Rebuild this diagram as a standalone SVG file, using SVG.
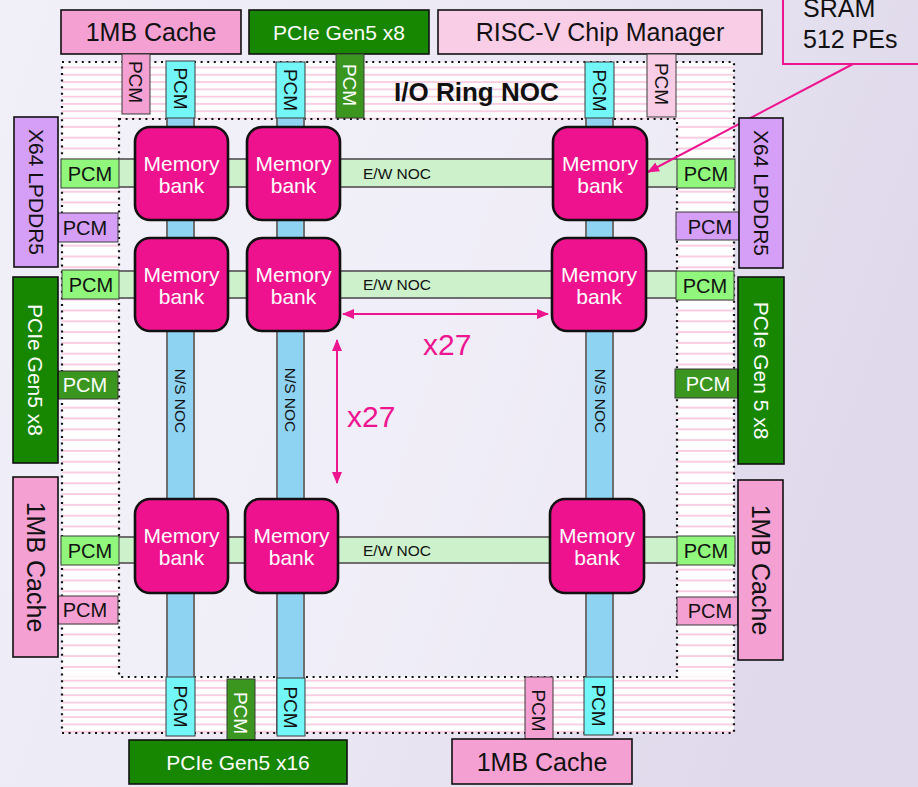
<svg xmlns="http://www.w3.org/2000/svg" width="918" height="787" viewBox="0 0 918 787">
  <defs>
    <linearGradient id="bg" x1="0" y1="0" x2="1" y2="0.3">
      <stop offset="0" stop-color="#f1f0f9"/>
      <stop offset="0.55" stop-color="#ebe8f4"/>
      <stop offset="1" stop-color="#dfd9eb"/>
    </linearGradient>
    <!-- ring stripes: tight spacing along top/bottom, wider along sides -->
    <pattern id="stripeH" patternUnits="userSpaceOnUse" x="0" y="62" width="20" height="7.3">
      <rect width="20" height="7.3" fill="#ffffff"/>
      <rect y="4.6" width="20" height="1.7" fill="#f9c9df"/>
    </pattern>
    <pattern id="stripeV" patternUnits="userSpaceOnUse" x="0" y="119" width="20" height="10.8">
      <rect width="20" height="10.8" fill="#ffffff"/>
      <rect y="7" width="20" height="1.8" fill="#f9c9df"/>
    </pattern>
    <marker id="ah" viewBox="0 0 12 10" refX="11" refY="5" markerWidth="12" markerHeight="10" markerUnits="userSpaceOnUse" orient="auto-start-reverse">
      <path d="M0,0 L12,5 L0,10 Z" fill="#ee1590"/>
    </marker>
    <style>
      text { font-family: "Liberation Sans", Arial, sans-serif; }
      .box { stroke: #111; stroke-width: 1.6; }
      .tab { stroke: #3a3a3a; stroke-width: 1; }
      .cache { fill: #f5a0d2; }
      .lpink { fill: #f9cde6; }
      .pcie { fill: #178600; }
      .gpcm { fill: #3a961f; }
      .lgpcm { fill: #90f77c; }
      .purple { fill: #d59ef7; }
      .cyan { fill: #72f6f8; }
      .bank { fill: #ef128e; stroke: #111; stroke-width: 2.6; }
      .bt { fill: #ffffff; font-size: 21px; text-anchor: middle; }
      .big { font-size: 25px; text-anchor: middle; }
      .mid { font-size: 21px; text-anchor: middle; }
      .pcm { font-size: 20px; text-anchor: middle; }
      .vt { font-size: 19px; text-anchor: middle; }
      .noc { font-size: 15.5px; fill: #111; }
      .w { fill: #ffffff; }
      .k { fill: #111111; }
      .dot { fill: none; stroke: #111; stroke-width: 2.2; stroke-dasharray: 2 4.6; }
      .ew { fill: #cdf1cb; }
      .ns { fill: #8fd3f3; }
      .edge { stroke: #6e6e6e; stroke-width: 2; }
      .pk { stroke: #ee1590; stroke-width: 2; fill: none; }
      .x27 { font-size: 30px; fill: #ee1590; }
    </style>
  </defs>

  <!-- backdrop -->
  <rect width="918" height="787" fill="url(#bg)"/>
  <rect x="119" y="119" width="558" height="558" fill="#f3f1fa" opacity="0.6"/>

  <!-- I/O ring band -->
  <g id="io-ring">
    <rect x="62" y="62" width="672" height="57" fill="url(#stripeH)"/>
    <rect x="62" y="677" width="672" height="56" fill="url(#stripeH)"/>
    <rect x="62" y="119" width="57" height="558" fill="url(#stripeV)"/>
    <rect x="677" y="119" width="57" height="558" fill="url(#stripeV)"/>
    <rect class="dot" x="62" y="62" width="672" height="671"/>
    <rect class="dot" x="119" y="119" width="558" height="558"/>
    <text x="394" y="101" font-size="26" font-weight="bold" fill="#111">I/O Ring NOC</text>
  </g>

  <!-- mesh NOC links -->
  <g id="connectors">
    <g id="ew-noc">
      <rect class="ew" x="119" y="158" width="558" height="30"/>
      <line class="edge" x1="119" y1="159" x2="677" y2="159"/>
      <line class="edge" x1="119" y1="187" x2="677" y2="187"/>
      <text class="noc" x="363" y="179">E/W NOC</text>

      <rect class="ew" x="119" y="270" width="558" height="29"/>
      <line class="edge" x1="119" y1="271" x2="677" y2="271"/>
      <line class="edge" x1="119" y1="298" x2="677" y2="298"/>
      <text class="noc" x="363" y="290">E/W NOC</text>

      <rect class="ew" x="119" y="536" width="558" height="28"/>
      <line class="edge" x1="119" y1="537" x2="677" y2="537"/>
      <line class="edge" x1="119" y1="563" x2="677" y2="563"/>
      <text class="noc" x="363" y="556">E/W NOC</text>
    </g>
    <g id="ns-noc">
      <rect class="ns" x="166" y="62" width="29" height="672"/>
      <line class="edge" x1="167" y1="62" x2="167" y2="734"/>
      <line class="edge" x1="194" y1="62" x2="194" y2="734"/>
      <text class="noc" transform="translate(180.5,401) rotate(90)" x="0" y="5.5" text-anchor="middle">N/S NOC</text>

      <rect class="ns" x="276" y="62" width="29" height="672"/>
      <line class="edge" x1="277" y1="62" x2="277" y2="734"/>
      <line class="edge" x1="304" y1="62" x2="304" y2="734"/>
      <text class="noc" transform="translate(290.5,400) rotate(90)" x="0" y="5.5" text-anchor="middle">N/S NOC</text>

      <rect class="ns" x="585" y="62" width="29" height="672"/>
      <line class="edge" x1="586" y1="62" x2="586" y2="734"/>
      <line class="edge" x1="613" y1="62" x2="613" y2="734"/>
      <text class="noc" transform="translate(600,401) rotate(90)" x="0" y="5.5" text-anchor="middle">N/S NOC</text>
    </g>

    <!-- replication arrows -->
    <line class="pk" x1="343" y1="314" x2="548" y2="314" marker-start="url(#ah)" marker-end="url(#ah)"/>
    <text class="x27" x="423" y="355">x27</text>
    <line class="pk" x1="337" y1="340" x2="337" y2="483" marker-start="url(#ah)" marker-end="url(#ah)"/>
    <text class="x27" x="347" y="427">x27</text>

    <!-- callout pointer -->
    <line class="pk" x1="853" y1="64" x2="648" y2="172" marker-end="url(#ah)"/>
  </g>

  <!-- top edge blocks -->
  <g id="cache-top">
    <rect class="box cache" x="61" y="10" width="180" height="44"/>
    <text class="big k" x="151" y="41">1MB Cache</text>
  </g>
  <g id="pcie-top">
    <rect class="box pcie" x="249" y="10" width="180" height="44"/>
    <text class="mid w" x="339" y="40">PCIe Gen5 x8</text>
  </g>
  <g id="riscv">
    <rect class="box lpink" x="438" y="10" width="324" height="44"/>
    <text class="big k" x="600" y="41">RISC-V Chip Manager</text>
  </g>
  <g id="sram-callout">
    <rect x="783" y="-10" width="150" height="74" fill="none" stroke="#ee1590" stroke-width="2"/>
    <text x="803" y="17" font-size="25" fill="#111">SRAM</text>
    <text x="803" y="48" font-size="25" fill="#111">512 PEs</text>
  </g>

  <!-- top PCM tabs -->
  <g id="pcm-t1"><rect class="tab cache" x="122" y="54" width="28" height="60"/><text class="vt k" transform="translate(136,82) rotate(90)" y="7">PCM</text></g>
  <g id="pcm-t2"><rect class="tab cyan" x="166" y="61" width="29" height="57"/><text class="vt k" transform="translate(180.5,88.5) rotate(90)" y="7">PCM</text></g>
  <g id="pcm-t3"><rect class="tab cyan" x="276" y="62" width="29" height="56"/><text class="vt k" transform="translate(290.5,90) rotate(90)" y="7">PCM</text></g>
  <g id="pcm-t4"><rect class="tab gpcm" x="336" y="54" width="28" height="64"/><text class="vt w" transform="translate(350,85) rotate(90)" y="7">PCM</text></g>
  <g id="pcm-t5"><rect class="tab cyan" x="585" y="62" width="29" height="56"/><text class="vt k" transform="translate(599.5,90.5) rotate(90)" y="7">PCM</text></g>
  <g id="pcm-t6"><rect class="tab lpink" x="647" y="54" width="29" height="63"/><text class="vt k" transform="translate(661.5,84) rotate(90)" y="7">PCM</text></g>

  <!-- bottom PCM tabs -->
  <g id="pcm-b1"><rect class="tab cyan" x="166" y="677" width="29" height="59"/><text class="vt k" transform="translate(180.5,706.5) rotate(90)" y="7">PCM</text></g>
  <g id="pcm-b2"><rect class="tab gpcm" x="227" y="679" width="28" height="61"/><text class="vt w" transform="translate(241,713) rotate(90)" y="7">PCM</text></g>
  <g id="pcm-b3"><rect class="tab cyan" x="277" y="678" width="28" height="58"/><text class="vt k" transform="translate(291,707.5) rotate(90)" y="7">PCM</text></g>
  <g id="pcm-b4"><rect class="tab cache" x="525" y="677" width="28" height="62"/><text class="vt k" transform="translate(539,710.5) rotate(90)" y="7">PCM</text></g>
  <g id="pcm-b5"><rect class="tab cyan" x="584" y="677" width="29" height="58"/><text class="vt k" transform="translate(598.5,705.5) rotate(90)" y="7">PCM</text></g>

  <!-- bottom edge blocks -->
  <g id="pcie-bottom">
    <rect class="box pcie" x="129" y="740" width="218" height="44"/>
    <text class="mid w" x="238" y="770">PCIe Gen5 x16</text>
  </g>
  <g id="cache-bottom">
    <rect class="box cache" x="452" y="739" width="180" height="45"/>
    <text class="big k" x="542" y="771">1MB Cache</text>
  </g>

  <!-- left side PCM tabs -->
  <g id="pcm-l1"><rect class="tab lgpcm" x="61" y="159" width="58" height="29"/><text class="pcm k" x="90" y="181">PCM</text></g>
  <g id="pcm-l2"><rect class="tab purple" x="58" y="213" width="60" height="29"/><text class="pcm k" x="85" y="235">PCM</text></g>
  <g id="pcm-l3"><rect class="tab lgpcm" x="62" y="270" width="57" height="29"/><text class="pcm k" x="91" y="292">PCM</text></g>
  <g id="pcm-l4"><rect class="tab gpcm" x="58" y="371" width="60" height="28"/><text class="pcm w" x="85" y="392">PCM</text></g>
  <g id="pcm-l5"><rect class="tab lgpcm" x="61" y="536" width="58" height="29"/><text class="pcm k" x="90" y="558">PCM</text></g>
  <g id="pcm-l6"><rect class="tab cache" x="58" y="596" width="60" height="28"/><text class="pcm k" x="85" y="617">PCM</text></g>

  <!-- right side PCM tabs -->
  <g id="pcm-r1"><rect class="tab lgpcm" x="677" y="159" width="58" height="29"/><text class="pcm k" x="706" y="181">PCM</text></g>
  <g id="pcm-r2"><rect class="tab purple" x="676" y="212" width="63" height="28"/><text class="pcm k" x="710" y="234">PCM</text></g>
  <g id="pcm-r3"><rect class="tab lgpcm" x="676" y="271" width="58" height="29"/><text class="pcm k" x="705" y="293">PCM</text></g>
  <g id="pcm-r4"><rect class="tab gpcm" x="675" y="369" width="63" height="29"/><text class="pcm w" x="708" y="391">PCM</text></g>
  <g id="pcm-r5"><rect class="tab lgpcm" x="677" y="536" width="58" height="29"/><text class="pcm k" x="706" y="558">PCM</text></g>
  <g id="pcm-r6"><rect class="tab cache" x="677" y="597" width="61" height="28"/><text class="pcm k" x="710" y="618">PCM</text></g>

  <!-- left side blocks -->
  <g id="lpddr-left">
    <rect class="box purple" x="14" y="117" width="44" height="150"/>
    <text class="mid k" transform="translate(36,192) rotate(90)" y="7.5">X64 LPDDR5</text>
  </g>
  <g id="pcie-left">
    <rect class="box pcie" x="13" y="277" width="45" height="186"/>
    <text class="mid w" transform="translate(35.5,370) rotate(90)" y="7.5">PCIe Gen5 x8</text>
  </g>
  <g id="cache-left">
    <rect class="box cache" x="13" y="477" width="45" height="180"/>
    <text class="big k" transform="translate(35.5,567) rotate(90)" y="9">1MB Cache</text>
  </g>

  <!-- right side blocks -->
  <g id="lpddr-right">
    <rect class="box purple" x="739" y="118" width="44" height="150"/>
    <text class="mid k" transform="translate(761,193) rotate(90)" y="7.5">X64 LPDDR5</text>
  </g>
  <g id="pcie-right">
    <rect class="box pcie" x="738" y="277" width="46" height="187"/>
    <text class="mid w" transform="translate(761,370.5) rotate(90)" y="7.5">PCIe Gen 5 x8</text>
  </g>
  <g id="cache-right">
    <rect class="box cache" x="738" y="480" width="45" height="180"/>
    <text class="big k" transform="translate(760.5,570) rotate(90)" y="9">1MB Cache</text>
  </g>

  <!-- memory banks -->
  <g id="bank-r1c1"><rect class="bank" x="135" y="127" width="93" height="93" rx="15"/><text class="bt" x="181.5" y="171">Memory</text><text class="bt" x="181.5" y="193">bank</text></g>
  <g id="bank-r1c2"><rect class="bank" x="247" y="127" width="93" height="93" rx="15"/><text class="bt" x="293.5" y="171">Memory</text><text class="bt" x="293.5" y="193">bank</text></g>
  <g id="bank-r1c3"><rect class="bank" x="553" y="127" width="94" height="93" rx="15"/><text class="bt" x="600" y="171">Memory</text><text class="bt" x="600" y="193">bank</text></g>
  <g id="bank-r2c1"><rect class="bank" x="135" y="238" width="93" height="93" rx="15"/><text class="bt" x="181.5" y="282">Memory</text><text class="bt" x="181.5" y="304">bank</text></g>
  <g id="bank-r2c2"><rect class="bank" x="247" y="238" width="93" height="93" rx="15"/><text class="bt" x="293.5" y="282">Memory</text><text class="bt" x="293.5" y="304">bank</text></g>
  <g id="bank-r2c3"><rect class="bank" x="552" y="238" width="94" height="93" rx="15"/><text class="bt" x="599" y="282">Memory</text><text class="bt" x="599" y="304">bank</text></g>
  <g id="bank-r3c1"><rect class="bank" x="135" y="499" width="93" height="94" rx="15"/><text class="bt" x="181.5" y="543">Memory</text><text class="bt" x="181.5" y="565">bank</text></g>
  <g id="bank-r3c2"><rect class="bank" x="245" y="499" width="93" height="94" rx="15"/><text class="bt" x="291.5" y="543">Memory</text><text class="bt" x="291.5" y="565">bank</text></g>
  <g id="bank-r3c3"><rect class="bank" x="550" y="499" width="94" height="94" rx="15"/><text class="bt" x="597" y="543">Memory</text><text class="bt" x="597" y="565">bank</text></g>
</svg>
